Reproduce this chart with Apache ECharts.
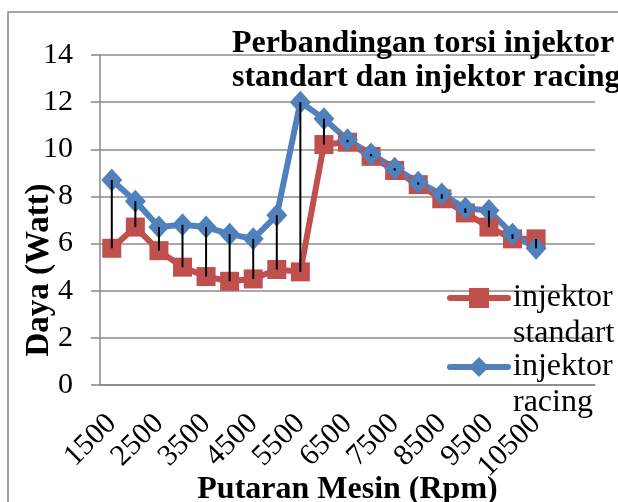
<html>
  <head>
    <meta charset="utf-8" />
    <title>ECharts</title>
    <script src="https://cdn.jsdelivr.net/npm/echarts@6/dist/echarts.min.js"></script>
  </head>
  <body style="margin:0">
    <div id="main" style="width:618px;height:502px;"></div>
    <script type="text/javascript">
      // data
      var rpm = ['1500', '2000', '2500', '3000', '3500', '4000', '4500', '5000', '5500', '6000',
                 '6500', '7000', '7500', '8000', '8500', '9000', '9500', '10000', '10500', '', ''];
      var standart = [5.8, 6.7, 5.7, 5.0, 4.6, 4.4, 4.5, 4.9, 4.8, 10.2,
                      10.3, 9.7, 9.1, 8.5, 7.9, 7.3, 6.7, 6.2, 6.2];
      var racing = [8.7, 7.8, 6.7, 6.8, 6.7, 6.4, 6.2, 7.2, 12.0, 11.3,
                    10.4, 9.8, 9.2, 8.6, 8.1, 7.5, 7.4, 6.4, 5.8];
      var yTicks = [0, 14, 2];

      var serif = 'Liberation Serif';
      var myChart = echarts.init(document.getElementById('main'));

      // pasangan nilai untuk garis vertikal antar seri
      var dropData = standart.map(function (v, i) { return [i, v, racing[i]]; });

      // baris kosong di depan supaya ikon sejajar dengan baris pertama
      function legendText(n) { return '\n' + n.replace(' ', '\n'); }

      var legendBase = {
        orient: 'vertical',
        left: 447,
        padding: 0,
        itemWidth: 58,
        itemHeight: 25,
        itemGap: 0,
        formatter: legendText,
        lineStyle: { width: 6, cap: 'round' },
        textStyle: { fontFamily: serif, fontSize: 32, lineHeight: 36, color: '#000' }
      };

      var option = {
        animation: false,
        title: {
          text: 'Perbandingan torsi injektor\nstandart dan injektor racing',
          left: 232,
          top: 27,
          padding: 0,
          textStyle: { fontFamily: serif, fontWeight: 'bold', fontSize: 32, lineHeight: 34, color: '#000' }
        },
        graphic: [{
          type: 'rect',
          shape: { x: 8, y: 12, width: 700, height: 600 },
          style: { fill: 'none', stroke: '#888', lineWidth: 1.5 },
          silent: true
        }],
        legend: [
          Object.assign({}, legendBase, { data: ['injektor standart'], top: 244 }),
          Object.assign({}, legendBase, { data: ['injektor racing'], top: 313 })
        ],
        grid: { left: 100, top: 55, right: 23, bottom: 117, outerBoundsMode: 'none' },
        xAxis: {
          type: 'category',
          data: rpm,
          name: 'Putaran Mesin (Rpm)',
          nameLocation: 'middle',
          nameGap: 89,
          nameMoveOverlap: false,
          nameTextStyle: { fontFamily: serif, fontWeight: 'bold', fontSize: 32, color: '#000' },
          axisLine: { lineStyle: { color: '#888', width: 1.5 } },
          axisTick: { show: false },
          axisLabel: { interval: 1, rotate: 45, margin: 34, fontFamily: serif, fontSize: 30, color: '#000' }
        },
        yAxis: {
          type: 'value',
          min: yTicks[0],
          max: yTicks[1],
          interval: yTicks[2],
          name: 'Daya (Watt)',
          nameLocation: 'middle',
          nameRotate: 90,
          nameGap: 44,
          nameMoveOverlap: false,
          nameTextStyle: { fontFamily: serif, fontWeight: 'bold', fontSize: 33, color: '#000', padding: [0, 100, 0, 0] },
          axisLine: { show: true, lineStyle: { color: '#888', width: 1.5 } },
          axisTick: { show: true, length: 9, lineStyle: { color: '#888', width: 1.5 } },
          axisLabel: { margin: 27, fontFamily: serif, fontSize: 30, color: '#000' },
          splitLine: { lineStyle: { color: '#8c8c8c', width: 1.5 } }
        },
        series: [
          {
            name: 'injektor standart',
            type: 'line',
            data: standart,
            symbol: 'rect',
            symbolSize: 19,
            showAllSymbol: true,
            itemStyle: { color: '#C0504D' },
            lineStyle: { color: '#C0504D', width: 6 }
          },
          {
            name: 'injektor racing',
            type: 'line',
            data: racing,
            symbol: 'diamond',
            symbolSize: [21, 23],
            showAllSymbol: true,
            itemStyle: { color: '#4F81BD' },
            lineStyle: { color: '#4F81BD', width: 6 }
          },
          {
            type: 'custom',
            z: 10,
            silent: true,
            data: dropData,
            encode: { x: 0, y: [1, 2] },
            renderItem: function (params, api) {
              var a = api.coord([api.value(0), api.value(1)]);
              var b = api.coord([api.value(0), api.value(2)]);
              return {
                type: 'line',
                shape: { x1: a[0], y1: a[1], x2: b[0], y2: b[1] },
                style: { stroke: '#000', lineWidth: 2 }
              };
            }
          }
        ]
      };

      myChart.setOption(option);
    </script>
  </body>
</html>
